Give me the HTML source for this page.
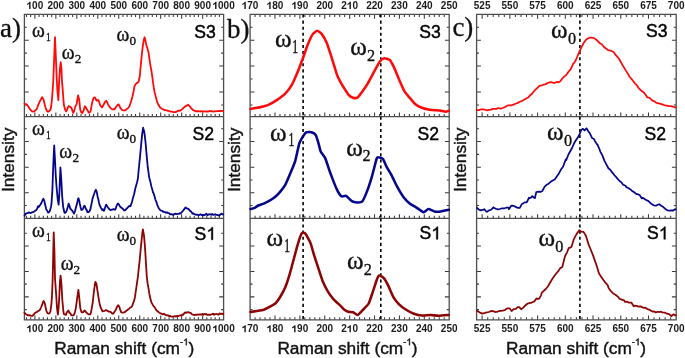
<!DOCTYPE html>
<html><head><meta charset="utf-8"><style>
html,body{margin:0;padding:0;background:#fff;}
svg{display:block;will-change:transform;filter:blur(0.25px);}
.tl{font-family:"Liberation Sans",sans-serif;font-size:10px;font-weight:bold;text-anchor:middle;fill:#1a1a1a;}
.ax{font-family:"Liberation Sans",sans-serif;font-size:17.3px;fill:#111;stroke:#111;stroke-width:0.4px;}
.sl{font-family:"Liberation Sans",sans-serif;font-size:17.6px;fill:#000;stroke:#000;stroke-width:0.45px;}
.pl{font-family:"Liberation Serif",serif;font-size:27px;fill:#111;stroke:#111;stroke-width:0.3px;}
.om{font-family:"Liberation Serif",serif;fill:#111;stroke:#111;stroke-width:0.35px;}
</style></head><body>
<svg width="685" height="358" viewBox="0 0 685 358">
<path d="M26.50 116.70v-2.6 M26.50 14.45v2.6 M30.69 116.70v-2.6 M30.69 14.45v2.6 M34.88 116.70v-4.2 M34.88 14.45v4.2 M39.08 116.70v-2.6 M39.08 14.45v2.6 M43.27 116.70v-2.6 M43.27 14.45v2.6 M47.47 116.70v-2.6 M47.47 14.45v2.6 M51.66 116.70v-2.6 M51.66 14.45v2.6 M55.85 116.70v-4.2 M55.85 14.45v4.2 M60.05 116.70v-2.6 M60.05 14.45v2.6 M64.24 116.70v-2.6 M64.24 14.45v2.6 M68.43 116.70v-2.6 M68.43 14.45v2.6 M72.63 116.70v-2.6 M72.63 14.45v2.6 M76.82 116.70v-4.2 M76.82 14.45v4.2 M81.01 116.70v-2.6 M81.01 14.45v2.6 M85.21 116.70v-2.6 M85.21 14.45v2.6 M89.40 116.70v-2.6 M89.40 14.45v2.6 M93.60 116.70v-2.6 M93.60 14.45v2.6 M97.79 116.70v-4.2 M97.79 14.45v4.2 M101.98 116.70v-2.6 M101.98 14.45v2.6 M106.18 116.70v-2.6 M106.18 14.45v2.6 M110.37 116.70v-2.6 M110.37 14.45v2.6 M114.56 116.70v-2.6 M114.56 14.45v2.6 M118.76 116.70v-4.2 M118.76 14.45v4.2 M122.95 116.70v-2.6 M122.95 14.45v2.6 M127.15 116.70v-2.6 M127.15 14.45v2.6 M131.34 116.70v-2.6 M131.34 14.45v2.6 M135.53 116.70v-2.6 M135.53 14.45v2.6 M139.73 116.70v-4.2 M139.73 14.45v4.2 M143.92 116.70v-2.6 M143.92 14.45v2.6 M148.11 116.70v-2.6 M148.11 14.45v2.6 M152.31 116.70v-2.6 M152.31 14.45v2.6 M156.50 116.70v-2.6 M156.50 14.45v2.6 M160.69 116.70v-4.2 M160.69 14.45v4.2 M164.89 116.70v-2.6 M164.89 14.45v2.6 M169.08 116.70v-2.6 M169.08 14.45v2.6 M173.28 116.70v-2.6 M173.28 14.45v2.6 M177.47 116.70v-2.6 M177.47 14.45v2.6 M181.66 116.70v-4.2 M181.66 14.45v4.2 M185.86 116.70v-2.6 M185.86 14.45v2.6 M190.05 116.70v-2.6 M190.05 14.45v2.6 M194.24 116.70v-2.6 M194.24 14.45v2.6 M198.44 116.70v-2.6 M198.44 14.45v2.6 M202.63 116.70v-4.2 M202.63 14.45v4.2 M206.83 116.70v-2.6 M206.83 14.45v2.6 M211.02 116.70v-2.6 M211.02 14.45v2.6 M215.21 116.70v-2.6 M215.21 14.45v2.6 M219.41 116.70v-2.6 M219.41 14.45v2.6" stroke="#3a3a3a" stroke-width="1.05" fill="none"/>
<path d="M24.40 104.90h2.4 M223.60 104.90h-2.4 M24.40 91.95h4.3 M223.60 91.95h-4.3 M24.40 79.00h2.4 M223.60 79.00h-2.4 M24.40 66.05h4.3 M223.60 66.05h-4.3 M24.40 53.10h2.4 M223.60 53.10h-2.4 M24.40 40.15h4.3 M223.60 40.15h-4.3 M24.40 27.20h2.4 M223.60 27.20h-2.4" stroke="#3a3a3a" stroke-width="1.05" fill="none"/>
<path d="M26.50 218.40v-2.6 M30.69 218.40v-2.6 M34.88 218.40v-4.2 M39.08 218.40v-2.6 M43.27 218.40v-2.6 M47.47 218.40v-2.6 M51.66 218.40v-2.6 M55.85 218.40v-4.2 M60.05 218.40v-2.6 M64.24 218.40v-2.6 M68.43 218.40v-2.6 M72.63 218.40v-2.6 M76.82 218.40v-4.2 M81.01 218.40v-2.6 M85.21 218.40v-2.6 M89.40 218.40v-2.6 M93.60 218.40v-2.6 M97.79 218.40v-4.2 M101.98 218.40v-2.6 M106.18 218.40v-2.6 M110.37 218.40v-2.6 M114.56 218.40v-2.6 M118.76 218.40v-4.2 M122.95 218.40v-2.6 M127.15 218.40v-2.6 M131.34 218.40v-2.6 M135.53 218.40v-2.6 M139.73 218.40v-4.2 M143.92 218.40v-2.6 M148.11 218.40v-2.6 M152.31 218.40v-2.6 M156.50 218.40v-2.6 M160.69 218.40v-4.2 M164.89 218.40v-2.6 M169.08 218.40v-2.6 M173.28 218.40v-2.6 M177.47 218.40v-2.6 M181.66 218.40v-4.2 M185.86 218.40v-2.6 M190.05 218.40v-2.6 M194.24 218.40v-2.6 M198.44 218.40v-2.6 M202.63 218.40v-4.2 M206.83 218.40v-2.6 M211.02 218.40v-2.6 M215.21 218.40v-2.6 M219.41 218.40v-2.6" stroke="#3a3a3a" stroke-width="1.05" fill="none"/>
<path d="M24.40 205.50h2.4 M223.60 205.50h-2.4 M24.40 192.72h4.3 M223.60 192.72h-4.3 M24.40 179.93h2.4 M223.60 179.93h-2.4 M24.40 167.15h4.3 M223.60 167.15h-4.3 M24.40 154.37h2.4 M223.60 154.37h-2.4 M24.40 141.58h4.3 M223.60 141.58h-4.3 M24.40 128.80h2.4 M223.60 128.80h-2.4" stroke="#3a3a3a" stroke-width="1.05" fill="none"/>
<path d="M26.50 319.80v-2.6 M30.69 319.80v-2.6 M34.88 319.80v-4.2 M39.08 319.80v-2.6 M43.27 319.80v-2.6 M47.47 319.80v-2.6 M51.66 319.80v-2.6 M55.85 319.80v-4.2 M60.05 319.80v-2.6 M64.24 319.80v-2.6 M68.43 319.80v-2.6 M72.63 319.80v-2.6 M76.82 319.80v-4.2 M81.01 319.80v-2.6 M85.21 319.80v-2.6 M89.40 319.80v-2.6 M93.60 319.80v-2.6 M97.79 319.80v-4.2 M101.98 319.80v-2.6 M106.18 319.80v-2.6 M110.37 319.80v-2.6 M114.56 319.80v-2.6 M118.76 319.80v-4.2 M122.95 319.80v-2.6 M127.15 319.80v-2.6 M131.34 319.80v-2.6 M135.53 319.80v-2.6 M139.73 319.80v-4.2 M143.92 319.80v-2.6 M148.11 319.80v-2.6 M152.31 319.80v-2.6 M156.50 319.80v-2.6 M160.69 319.80v-4.2 M164.89 319.80v-2.6 M169.08 319.80v-2.6 M173.28 319.80v-2.6 M177.47 319.80v-2.6 M181.66 319.80v-4.2 M185.86 319.80v-2.6 M190.05 319.80v-2.6 M194.24 319.80v-2.6 M198.44 319.80v-2.6 M202.63 319.80v-4.2 M206.83 319.80v-2.6 M211.02 319.80v-2.6 M215.21 319.80v-2.6 M219.41 319.80v-2.6" stroke="#3a3a3a" stroke-width="1.05" fill="none"/>
<path d="M24.40 309.60h2.4 M223.60 309.60h-2.4 M24.40 296.87h4.3 M223.60 296.87h-4.3 M24.40 284.13h2.4 M223.60 284.13h-2.4 M24.40 271.40h4.3 M223.60 271.40h-4.3 M24.40 258.67h2.4 M223.60 258.67h-2.4 M24.40 245.93h4.3 M223.60 245.93h-4.3 M24.40 233.20h2.4 M223.60 233.20h-2.4" stroke="#3a3a3a" stroke-width="1.05" fill="none"/>
<path d="M24.4 14.45H223.6V319.8H24.4Z M24.4 116.7H223.6 M24.4 218.4H223.6" stroke="#4d4d4d" stroke-width="1.3" fill="none"/>
<text x="34.88" y="9.0" class="tl"> 00</text>
<path d="M400 0H263V516C205 462 137 422 60 397V521C101 534 146 559 195 595C244 632 278 672 296 716H400Z" transform="translate(26.54,9.0) scale(0.01,-0.01)" fill="#111"/>
<text x="34.88" y="332.3" class="tl"> 00</text>
<path d="M400 0H263V516C205 462 137 422 60 397V521C101 534 146 559 195 595C244 632 278 672 296 716H400Z" transform="translate(26.54,332.3) scale(0.01,-0.01)" fill="#111"/>
<text x="55.85" y="9.0" class="tl">200</text>
<text x="55.85" y="332.3" class="tl">200</text>
<text x="76.82" y="9.0" class="tl">300</text>
<text x="76.82" y="332.3" class="tl">300</text>
<text x="97.79" y="9.0" class="tl">400</text>
<text x="97.79" y="332.3" class="tl">400</text>
<text x="118.76" y="9.0" class="tl">500</text>
<text x="118.76" y="332.3" class="tl">500</text>
<text x="139.73" y="9.0" class="tl">600</text>
<text x="139.73" y="332.3" class="tl">600</text>
<text x="160.69" y="9.0" class="tl">700</text>
<text x="160.69" y="332.3" class="tl">700</text>
<text x="181.66" y="9.0" class="tl">800</text>
<text x="181.66" y="332.3" class="tl">800</text>
<text x="202.63" y="9.0" class="tl">900</text>
<text x="202.63" y="332.3" class="tl">900</text>
<text x="223.60" y="9.0" class="tl"> 000</text>
<path d="M400 0H263V516C205 462 137 422 60 397V521C101 534 146 559 195 595C244 632 278 672 296 716H400Z" transform="translate(212.48,9.0) scale(0.01,-0.01)" fill="#111"/>
<text x="223.60" y="332.3" class="tl"> 000</text>
<path d="M400 0H263V516C205 462 137 422 60 397V521C101 534 146 559 195 595C244 632 278 672 296 716H400Z" transform="translate(212.48,332.3) scale(0.01,-0.01)" fill="#111"/>
<path d="M255.08 116.70v-2.6 M255.08 14.45v2.6 M260.06 116.70v-2.6 M260.06 14.45v2.6 M265.03 116.70v-2.6 M265.03 14.45v2.6 M270.01 116.70v-2.6 M270.01 14.45v2.6 M274.99 116.70v-4.2 M274.99 14.45v4.2 M279.96 116.70v-2.6 M279.96 14.45v2.6 M284.94 116.70v-2.6 M284.94 14.45v2.6 M289.92 116.70v-2.6 M289.92 14.45v2.6 M294.90 116.70v-2.6 M294.90 14.45v2.6 M299.88 116.70v-4.2 M299.88 14.45v4.2 M304.85 116.70v-2.6 M304.85 14.45v2.6 M309.83 116.70v-2.6 M309.83 14.45v2.6 M314.81 116.70v-2.6 M314.81 14.45v2.6 M319.78 116.70v-2.6 M319.78 14.45v2.6 M324.76 116.70v-4.2 M324.76 14.45v4.2 M329.74 116.70v-2.6 M329.74 14.45v2.6 M334.72 116.70v-2.6 M334.72 14.45v2.6 M339.69 116.70v-2.6 M339.69 14.45v2.6 M344.67 116.70v-2.6 M344.67 14.45v2.6 M349.65 116.70v-4.2 M349.65 14.45v4.2 M354.63 116.70v-2.6 M354.63 14.45v2.6 M359.61 116.70v-2.6 M359.61 14.45v2.6 M364.58 116.70v-2.6 M364.58 14.45v2.6 M369.56 116.70v-2.6 M369.56 14.45v2.6 M374.54 116.70v-4.2 M374.54 14.45v4.2 M379.51 116.70v-2.6 M379.51 14.45v2.6 M384.49 116.70v-2.6 M384.49 14.45v2.6 M389.47 116.70v-2.6 M389.47 14.45v2.6 M394.45 116.70v-2.6 M394.45 14.45v2.6 M399.42 116.70v-4.2 M399.42 14.45v4.2 M404.40 116.70v-2.6 M404.40 14.45v2.6 M409.38 116.70v-2.6 M409.38 14.45v2.6 M414.36 116.70v-2.6 M414.36 14.45v2.6 M419.33 116.70v-2.6 M419.33 14.45v2.6 M424.31 116.70v-4.2 M424.31 14.45v4.2 M429.29 116.70v-2.6 M429.29 14.45v2.6 M434.27 116.70v-2.6 M434.27 14.45v2.6 M439.25 116.70v-2.6 M439.25 14.45v2.6 M444.22 116.70v-2.6 M444.22 14.45v2.6" stroke="#3a3a3a" stroke-width="1.05" fill="none"/>
<path d="M250.10 104.90h2.4 M449.20 104.90h-2.4 M250.10 91.95h4.3 M449.20 91.95h-4.3 M250.10 79.00h2.4 M449.20 79.00h-2.4 M250.10 66.05h4.3 M449.20 66.05h-4.3 M250.10 53.10h2.4 M449.20 53.10h-2.4 M250.10 40.15h4.3 M449.20 40.15h-4.3 M250.10 27.20h2.4 M449.20 27.20h-2.4" stroke="#3a3a3a" stroke-width="1.05" fill="none"/>
<path d="M255.08 218.40v-2.6 M260.06 218.40v-2.6 M265.03 218.40v-2.6 M270.01 218.40v-2.6 M274.99 218.40v-4.2 M279.96 218.40v-2.6 M284.94 218.40v-2.6 M289.92 218.40v-2.6 M294.90 218.40v-2.6 M299.88 218.40v-4.2 M304.85 218.40v-2.6 M309.83 218.40v-2.6 M314.81 218.40v-2.6 M319.78 218.40v-2.6 M324.76 218.40v-4.2 M329.74 218.40v-2.6 M334.72 218.40v-2.6 M339.69 218.40v-2.6 M344.67 218.40v-2.6 M349.65 218.40v-4.2 M354.63 218.40v-2.6 M359.61 218.40v-2.6 M364.58 218.40v-2.6 M369.56 218.40v-2.6 M374.54 218.40v-4.2 M379.51 218.40v-2.6 M384.49 218.40v-2.6 M389.47 218.40v-2.6 M394.45 218.40v-2.6 M399.42 218.40v-4.2 M404.40 218.40v-2.6 M409.38 218.40v-2.6 M414.36 218.40v-2.6 M419.33 218.40v-2.6 M424.31 218.40v-4.2 M429.29 218.40v-2.6 M434.27 218.40v-2.6 M439.25 218.40v-2.6 M444.22 218.40v-2.6" stroke="#3a3a3a" stroke-width="1.05" fill="none"/>
<path d="M250.10 205.50h2.4 M449.20 205.50h-2.4 M250.10 192.72h4.3 M449.20 192.72h-4.3 M250.10 179.93h2.4 M449.20 179.93h-2.4 M250.10 167.15h4.3 M449.20 167.15h-4.3 M250.10 154.37h2.4 M449.20 154.37h-2.4 M250.10 141.58h4.3 M449.20 141.58h-4.3 M250.10 128.80h2.4 M449.20 128.80h-2.4" stroke="#3a3a3a" stroke-width="1.05" fill="none"/>
<path d="M255.08 319.80v-2.6 M260.06 319.80v-2.6 M265.03 319.80v-2.6 M270.01 319.80v-2.6 M274.99 319.80v-4.2 M279.96 319.80v-2.6 M284.94 319.80v-2.6 M289.92 319.80v-2.6 M294.90 319.80v-2.6 M299.88 319.80v-4.2 M304.85 319.80v-2.6 M309.83 319.80v-2.6 M314.81 319.80v-2.6 M319.78 319.80v-2.6 M324.76 319.80v-4.2 M329.74 319.80v-2.6 M334.72 319.80v-2.6 M339.69 319.80v-2.6 M344.67 319.80v-2.6 M349.65 319.80v-4.2 M354.63 319.80v-2.6 M359.61 319.80v-2.6 M364.58 319.80v-2.6 M369.56 319.80v-2.6 M374.54 319.80v-4.2 M379.51 319.80v-2.6 M384.49 319.80v-2.6 M389.47 319.80v-2.6 M394.45 319.80v-2.6 M399.42 319.80v-4.2 M404.40 319.80v-2.6 M409.38 319.80v-2.6 M414.36 319.80v-2.6 M419.33 319.80v-2.6 M424.31 319.80v-4.2 M429.29 319.80v-2.6 M434.27 319.80v-2.6 M439.25 319.80v-2.6 M444.22 319.80v-2.6" stroke="#3a3a3a" stroke-width="1.05" fill="none"/>
<path d="M250.10 309.60h2.4 M449.20 309.60h-2.4 M250.10 296.87h4.3 M449.20 296.87h-4.3 M250.10 284.13h2.4 M449.20 284.13h-2.4 M250.10 271.40h4.3 M449.20 271.40h-4.3 M250.10 258.67h2.4 M449.20 258.67h-2.4 M250.10 245.93h4.3 M449.20 245.93h-4.3 M250.10 233.20h2.4 M449.20 233.20h-2.4" stroke="#3a3a3a" stroke-width="1.05" fill="none"/>
<path d="M250.1 14.45H449.2V319.8H250.1Z M250.1 116.7H449.2 M250.1 218.4H449.2" stroke="#4d4d4d" stroke-width="1.3" fill="none"/>
<text x="250.10" y="9.0" class="tl"> 70</text>
<path d="M400 0H263V516C205 462 137 422 60 397V521C101 534 146 559 195 595C244 632 278 672 296 716H400Z" transform="translate(241.76,9.0) scale(0.01,-0.01)" fill="#111"/>
<text x="250.10" y="332.3" class="tl"> 70</text>
<path d="M400 0H263V516C205 462 137 422 60 397V521C101 534 146 559 195 595C244 632 278 672 296 716H400Z" transform="translate(241.76,332.3) scale(0.01,-0.01)" fill="#111"/>
<text x="274.99" y="9.0" class="tl"> 80</text>
<path d="M400 0H263V516C205 462 137 422 60 397V521C101 534 146 559 195 595C244 632 278 672 296 716H400Z" transform="translate(266.65,9.0) scale(0.01,-0.01)" fill="#111"/>
<text x="274.99" y="332.3" class="tl"> 80</text>
<path d="M400 0H263V516C205 462 137 422 60 397V521C101 534 146 559 195 595C244 632 278 672 296 716H400Z" transform="translate(266.65,332.3) scale(0.01,-0.01)" fill="#111"/>
<text x="299.88" y="9.0" class="tl"> 90</text>
<path d="M400 0H263V516C205 462 137 422 60 397V521C101 534 146 559 195 595C244 632 278 672 296 716H400Z" transform="translate(291.53,9.0) scale(0.01,-0.01)" fill="#111"/>
<text x="299.88" y="332.3" class="tl"> 90</text>
<path d="M400 0H263V516C205 462 137 422 60 397V521C101 534 146 559 195 595C244 632 278 672 296 716H400Z" transform="translate(291.53,332.3) scale(0.01,-0.01)" fill="#111"/>
<text x="324.76" y="9.0" class="tl">200</text>
<text x="324.76" y="332.3" class="tl">200</text>
<text x="349.65" y="9.0" class="tl">2 0</text>
<path d="M400 0H263V516C205 462 137 422 60 397V521C101 534 146 559 195 595C244 632 278 672 296 716H400Z" transform="translate(346.87,9.0) scale(0.01,-0.01)" fill="#111"/>
<text x="349.65" y="332.3" class="tl">2 0</text>
<path d="M400 0H263V516C205 462 137 422 60 397V521C101 534 146 559 195 595C244 632 278 672 296 716H400Z" transform="translate(346.87,332.3) scale(0.01,-0.01)" fill="#111"/>
<text x="374.54" y="9.0" class="tl">220</text>
<text x="374.54" y="332.3" class="tl">220</text>
<text x="399.42" y="9.0" class="tl">230</text>
<text x="399.42" y="332.3" class="tl">230</text>
<text x="424.31" y="9.0" class="tl">240</text>
<text x="424.31" y="332.3" class="tl">240</text>
<text x="449.20" y="9.0" class="tl">250</text>
<text x="449.20" y="332.3" class="tl">250</text>
<path d="M482.14 116.70v-4.2 M482.14 14.45v4.2 M487.69 116.70v-2.6 M487.69 14.45v2.6 M493.23 116.70v-2.6 M493.23 14.45v2.6 M498.78 116.70v-2.6 M498.78 14.45v2.6 M504.32 116.70v-2.6 M504.32 14.45v2.6 M509.87 116.70v-4.2 M509.87 14.45v4.2 M515.41 116.70v-2.6 M515.41 14.45v2.6 M520.96 116.70v-2.6 M520.96 14.45v2.6 M526.50 116.70v-2.6 M526.50 14.45v2.6 M532.04 116.70v-2.6 M532.04 14.45v2.6 M537.59 116.70v-4.2 M537.59 14.45v4.2 M543.13 116.70v-2.6 M543.13 14.45v2.6 M548.68 116.70v-2.6 M548.68 14.45v2.6 M554.22 116.70v-2.6 M554.22 14.45v2.6 M559.77 116.70v-2.6 M559.77 14.45v2.6 M565.31 116.70v-4.2 M565.31 14.45v4.2 M570.86 116.70v-2.6 M570.86 14.45v2.6 M576.40 116.70v-2.6 M576.40 14.45v2.6 M581.94 116.70v-2.6 M581.94 14.45v2.6 M587.49 116.70v-2.6 M587.49 14.45v2.6 M593.03 116.70v-4.2 M593.03 14.45v4.2 M598.58 116.70v-2.6 M598.58 14.45v2.6 M604.12 116.70v-2.6 M604.12 14.45v2.6 M609.67 116.70v-2.6 M609.67 14.45v2.6 M615.21 116.70v-2.6 M615.21 14.45v2.6 M620.76 116.70v-4.2 M620.76 14.45v4.2 M626.30 116.70v-2.6 M626.30 14.45v2.6 M631.84 116.70v-2.6 M631.84 14.45v2.6 M637.39 116.70v-2.6 M637.39 14.45v2.6 M642.93 116.70v-2.6 M642.93 14.45v2.6 M648.48 116.70v-4.2 M648.48 14.45v4.2 M654.02 116.70v-2.6 M654.02 14.45v2.6 M659.57 116.70v-2.6 M659.57 14.45v2.6 M665.11 116.70v-2.6 M665.11 14.45v2.6 M670.66 116.70v-2.6 M670.66 14.45v2.6" stroke="#3a3a3a" stroke-width="1.05" fill="none"/>
<path d="M476.60 104.90h2.4 M676.20 104.90h-2.4 M476.60 91.95h4.3 M676.20 91.95h-4.3 M476.60 79.00h2.4 M676.20 79.00h-2.4 M476.60 66.05h4.3 M676.20 66.05h-4.3 M476.60 53.10h2.4 M676.20 53.10h-2.4 M476.60 40.15h4.3 M676.20 40.15h-4.3 M476.60 27.20h2.4 M676.20 27.20h-2.4" stroke="#3a3a3a" stroke-width="1.05" fill="none"/>
<path d="M482.14 218.40v-4.2 M487.69 218.40v-2.6 M493.23 218.40v-2.6 M498.78 218.40v-2.6 M504.32 218.40v-2.6 M509.87 218.40v-4.2 M515.41 218.40v-2.6 M520.96 218.40v-2.6 M526.50 218.40v-2.6 M532.04 218.40v-2.6 M537.59 218.40v-4.2 M543.13 218.40v-2.6 M548.68 218.40v-2.6 M554.22 218.40v-2.6 M559.77 218.40v-2.6 M565.31 218.40v-4.2 M570.86 218.40v-2.6 M576.40 218.40v-2.6 M581.94 218.40v-2.6 M587.49 218.40v-2.6 M593.03 218.40v-4.2 M598.58 218.40v-2.6 M604.12 218.40v-2.6 M609.67 218.40v-2.6 M615.21 218.40v-2.6 M620.76 218.40v-4.2 M626.30 218.40v-2.6 M631.84 218.40v-2.6 M637.39 218.40v-2.6 M642.93 218.40v-2.6 M648.48 218.40v-4.2 M654.02 218.40v-2.6 M659.57 218.40v-2.6 M665.11 218.40v-2.6 M670.66 218.40v-2.6" stroke="#3a3a3a" stroke-width="1.05" fill="none"/>
<path d="M476.60 205.50h2.4 M676.20 205.50h-2.4 M476.60 192.72h4.3 M676.20 192.72h-4.3 M476.60 179.93h2.4 M676.20 179.93h-2.4 M476.60 167.15h4.3 M676.20 167.15h-4.3 M476.60 154.37h2.4 M676.20 154.37h-2.4 M476.60 141.58h4.3 M676.20 141.58h-4.3 M476.60 128.80h2.4 M676.20 128.80h-2.4" stroke="#3a3a3a" stroke-width="1.05" fill="none"/>
<path d="M482.14 319.80v-4.2 M487.69 319.80v-2.6 M493.23 319.80v-2.6 M498.78 319.80v-2.6 M504.32 319.80v-2.6 M509.87 319.80v-4.2 M515.41 319.80v-2.6 M520.96 319.80v-2.6 M526.50 319.80v-2.6 M532.04 319.80v-2.6 M537.59 319.80v-4.2 M543.13 319.80v-2.6 M548.68 319.80v-2.6 M554.22 319.80v-2.6 M559.77 319.80v-2.6 M565.31 319.80v-4.2 M570.86 319.80v-2.6 M576.40 319.80v-2.6 M581.94 319.80v-2.6 M587.49 319.80v-2.6 M593.03 319.80v-4.2 M598.58 319.80v-2.6 M604.12 319.80v-2.6 M609.67 319.80v-2.6 M615.21 319.80v-2.6 M620.76 319.80v-4.2 M626.30 319.80v-2.6 M631.84 319.80v-2.6 M637.39 319.80v-2.6 M642.93 319.80v-2.6 M648.48 319.80v-4.2 M654.02 319.80v-2.6 M659.57 319.80v-2.6 M665.11 319.80v-2.6 M670.66 319.80v-2.6" stroke="#3a3a3a" stroke-width="1.05" fill="none"/>
<path d="M476.60 309.60h2.4 M676.20 309.60h-2.4 M476.60 296.87h4.3 M676.20 296.87h-4.3 M476.60 284.13h2.4 M676.20 284.13h-2.4 M476.60 271.40h4.3 M676.20 271.40h-4.3 M476.60 258.67h2.4 M676.20 258.67h-2.4 M476.60 245.93h4.3 M676.20 245.93h-4.3 M476.60 233.20h2.4 M676.20 233.20h-2.4" stroke="#3a3a3a" stroke-width="1.05" fill="none"/>
<path d="M476.6 14.45H676.2V319.8H476.6Z M476.6 116.7H676.2 M476.6 218.4H676.2" stroke="#4d4d4d" stroke-width="1.3" fill="none"/>
<text x="482.14" y="9.0" class="tl">525</text>
<text x="482.14" y="332.3" class="tl">525</text>
<text x="509.87" y="9.0" class="tl">550</text>
<text x="509.87" y="332.3" class="tl">550</text>
<text x="537.59" y="9.0" class="tl">575</text>
<text x="537.59" y="332.3" class="tl">575</text>
<text x="565.31" y="9.0" class="tl">600</text>
<text x="565.31" y="332.3" class="tl">600</text>
<text x="593.03" y="9.0" class="tl">625</text>
<text x="593.03" y="332.3" class="tl">625</text>
<text x="620.76" y="9.0" class="tl">650</text>
<text x="620.76" y="332.3" class="tl">650</text>
<text x="648.48" y="9.0" class="tl">675</text>
<text x="648.48" y="332.3" class="tl">675</text>
<text x="676.20" y="9.0" class="tl">700</text>
<text x="676.20" y="332.3" class="tl">700</text>
<line x1="303.1" y1="14.45" x2="303.1" y2="116.2" stroke="#000" stroke-width="1.6" stroke-dasharray="3.1 3.0"/>
<line x1="303.1" y1="116.7" x2="303.1" y2="217.9" stroke="#000" stroke-width="1.6" stroke-dasharray="3.1 3.0"/>
<line x1="303.1" y1="218.4" x2="303.1" y2="319.3" stroke="#000" stroke-width="1.6" stroke-dasharray="3.1 3.0"/>
<line x1="380.8" y1="14.45" x2="380.8" y2="116.2" stroke="#000" stroke-width="1.6" stroke-dasharray="3.1 3.0"/>
<line x1="380.8" y1="116.7" x2="380.8" y2="217.9" stroke="#000" stroke-width="1.6" stroke-dasharray="3.1 3.0"/>
<line x1="380.8" y1="218.4" x2="380.8" y2="319.3" stroke="#000" stroke-width="1.6" stroke-dasharray="3.1 3.0"/>
<line x1="579.9" y1="14.45" x2="579.9" y2="116.2" stroke="#000" stroke-width="1.6" stroke-dasharray="3.1 3.0"/>
<line x1="579.9" y1="116.7" x2="579.9" y2="217.9" stroke="#000" stroke-width="1.6" stroke-dasharray="3.1 3.0"/>
<line x1="579.9" y1="218.4" x2="579.9" y2="319.3" stroke="#000" stroke-width="1.6" stroke-dasharray="3.1 3.0"/>
<path d="M24.50 103.59L25.99 104.28L26.60 104.40L27.77 105.76L28.67 107.07L29.20 108.10L30.12 109.23L31.00 110.41L32.31 111.49L33.20 111.71L34.27 111.45L35.30 110.44L36.45 109.26L37.10 108.10L38.17 105.11L39.14 102.95L39.70 101.52L40.82 99.60L41.87 97.49L42.10 97.29L43.17 98.87L43.70 100.21L44.64 104.31L45.56 107.63L45.70 108.11L46.63 110.31L47.64 111.56L48.30 111.71L49.33 111.00L50.34 109.85L50.90 108.11L51.81 101.14L52.20 96.21L53.12 83.57L53.30 80.00L54.10 60.01L55.00 37.24L55.90 57.93L56.70 77.97L57.40 90.97L58.35 100.17L58.40 99.49L59.20 80.04L60.00 68.04L60.70 62.08L61.40 67.90L61.90 80.06L62.70 89.67L63.60 102.05L64.00 105.31L64.99 109.41L66.00 111.38L67.05 110.04L67.50 108.41L68.60 106.01L69.51 106.49L70.00 106.95L70.97 107.30L71.50 107.92L72.56 111.28L73.30 112.94L74.27 110.65L75.20 106.87L76.22 104.80L76.70 103.75L77.68 97.44L78.10 95.39L79.08 99.16L79.30 100.63L80.22 109.61L80.30 109.98L81.41 112.66L82.40 113.00L83.34 110.96L84.32 108.09L85.00 106.29L85.96 107.48L86.50 108.93L87.63 110.31L88.57 112.41L89.10 112.91L90.12 111.88L90.70 110.53L91.70 105.18L92.20 102.54L93.16 99.06L93.80 97.54L94.80 97.46L95.30 98.09L96.37 100.27L96.90 100.71L97.90 100.02L98.40 100.13L99.43 102.79L100.00 104.88L100.97 106.38L102.00 107.43L103.04 105.71L104.10 103.74L105.01 101.97L105.91 101.18L106.20 100.75L107.31 102.52L108.20 104.78L109.39 106.48L110.30 107.90L111.57 108.86L112.40 109.45L113.49 109.24L114.40 109.38L115.00 108.64L116.15 106.73L116.80 106.05L117.73 104.79L118.70 104.44L119.64 106.31L120.64 108.56L120.90 108.61L122.13 110.02L123.50 110.28L124.41 110.28L125.40 110.36L126.36 109.36L126.80 109.08L127.99 108.12L129.07 106.70L129.40 106.10L130.44 103.29L131.40 100.27L132.31 97.01L133.29 92.72L133.40 92.32L134.37 87.07L134.70 85.77L135.66 84.16L136.70 83.15L137.69 82.64L138.60 81.73L139.58 77.27L139.90 75.27L140.40 69.06L141.33 59.56L141.50 57.86L142.42 49.19L142.90 45.51L143.83 39.78L144.60 37.25L145.59 41.06L146.40 45.30L147.32 48.04L148.23 51.21L148.50 52.30L149.46 59.12L149.90 62.18L150.82 67.55L151.60 71.99L152.51 78.45L152.70 79.93L153.70 87.13L154.64 92.23L155.59 95.81L155.70 96.12L156.73 100.48L157.70 103.59L158.78 105.34L159.98 107.25L160.30 107.36L161.63 108.71L162.59 109.11L163.60 109.42L164.57 110.23L165.60 110.05L166.61 110.29L167.50 110.82L168.51 110.78L170.00 111.45L170.99 111.53L172.14 111.60L173.30 112.08L174.30 112.21L175.46 112.09L176.43 111.64L177.00 111.57L177.99 110.74L179.06 110.86L180.07 110.61L180.50 110.62L181.76 109.23L182.50 108.98L183.61 107.69L184.70 106.86L185.62 106.25L186.50 105.53L187.71 105.15L188.30 104.76L189.56 106.03L190.00 106.58L191.17 108.30L191.90 108.88L193.04 110.17L194.45 110.60L195.00 111.12L196.35 111.23L197.36 111.19L198.42 111.25L199.48 111.37L200.00 111.31L201.05 111.23L202.13 111.26L203.21 111.55L204.27 111.29L205.30 111.39L206.37 111.65L207.38 111.30L208.38 111.54L209.44 110.99L210.00 111.01L211.01 111.26L212.10 111.26L213.22 111.61L214.29 111.41L215.27 111.37L215.70 111.34L216.95 111.14L217.94 111.11L219.00 110.91L220.04 111.09L221.21 110.80L222.26 110.89L223.00 111.05" stroke="#ff0a0a" stroke-width="1.8" fill="none" stroke-linejoin="round" stroke-linecap="round"/>
<path d="M24.50 215.75L25.55 213.68L26.00 213.66L26.93 213.19L28.00 213.03L29.03 212.31L30.15 213.00L30.70 213.09L31.78 212.40L32.86 212.06L33.40 212.12L34.30 211.51L35.21 210.55L36.10 210.26L37.10 208.76L38.09 206.11L38.70 207.08L39.75 205.49L40.80 204.09L41.76 202.14L42.76 199.73L43.40 198.81L44.39 201.08L44.80 203.53L45.82 207.24L46.10 209.12L47.06 210.60L48.10 212.57L49.14 212.06L50.10 210.23L51.03 206.64L51.50 203.57L52.40 189.55L52.90 174.96L53.50 159.96L54.20 145.52L54.90 158.21L55.70 174.83L56.62 187.71L56.80 189.67L57.71 199.30L57.80 199.74L58.60 204.64L59.40 193.34L59.90 180.09L60.40 167.48L61.20 178.01L62.11 194.69L62.20 196.62L63.10 206.29L63.50 208.56L64.55 212.96L64.90 212.92L66.03 212.12L66.90 210.01L67.84 206.82L68.60 203.63L69.59 206.35L70.20 208.59L71.46 209.75L72.30 210.87L73.47 212.61L74.00 213.62L75.04 211.25L75.40 209.47L76.40 205.77L77.10 203.60L78.01 199.03L78.50 198.21L79.43 201.41L79.80 203.73L80.77 207.95L81.40 210.02L82.59 209.43L83.00 208.68L84.17 205.95L84.70 205.86L85.80 208.89L86.90 210.35L87.40 212.17L88.41 212.17L89.40 211.46L90.44 209.25L90.80 207.28L91.79 202.60L92.50 198.75L93.56 195.48L94.10 194.05L95.15 191.01L95.90 189.70L96.80 192.14L97.72 197.38L98.10 198.24L99.01 202.64L99.95 205.95L100.10 206.01L101.12 208.08L102.20 209.95L102.80 209.29L103.74 210.91L104.20 210.34L105.16 207.30L106.20 204.61L107.29 206.49L108.20 207.82L109.51 209.33L110.45 210.12L110.90 209.54L112.00 209.85L113.05 209.21L113.50 209.13L114.55 209.50L115.00 209.79L115.98 207.97L116.40 206.17L117.51 203.99L118.10 203.49L119.27 205.09L119.90 206.33L121.15 207.60L122.00 208.11L123.26 209.27L124.10 210.50L125.36 210.07L126.20 209.16L127.46 207.78L128.30 206.92L129.39 205.82L130.40 206.41L131.37 203.60L131.80 202.85L132.73 198.87L133.76 195.21L133.90 195.02L134.84 190.82L135.77 186.61L136.00 186.13L137.01 182.46L137.91 178.33L138.00 177.54L138.92 167.45L139.00 166.92L139.70 159.92L140.62 150.21L141.20 144.21L142.10 134.82L142.20 133.98L143.15 127.75L143.25 128.19L144.16 131.41L144.60 134.13L145.52 142.30L145.70 144.09L146.60 154.68L146.90 158.18L147.85 168.08L148.00 168.57L148.92 175.41L149.20 177.44L150.19 180.91L151.18 185.61L151.30 186.16L152.20 189.14L153.10 192.69L153.40 192.81L154.45 195.91L155.35 199.35L155.50 199.79L156.49 202.14L157.44 205.38L157.60 205.54L158.51 207.67L159.00 208.44L160.11 210.01L161.00 210.58L162.26 210.83L163.24 211.77L163.80 211.76L164.75 212.08L165.81 212.75L166.92 212.22L168.00 213.08L169.05 213.14L170.10 214.35L171.15 214.18L172.20 214.42L173.26 214.97L174.34 214.01L175.39 213.61L176.40 214.17L177.49 213.92L178.53 213.93L179.52 213.27L180.00 213.69L181.15 212.76L182.23 211.65L183.00 210.75L184.28 209.10L185.61 207.43L186.50 208.26L187.83 208.53L189.16 209.72L190.00 210.84L191.27 211.77L192.52 213.65L193.00 213.23L194.29 214.21L195.22 214.47L196.34 214.90L197.00 214.41L198.37 215.27L199.43 214.82L200.54 214.29L201.66 215.08L202.74 214.93L203.75 215.36L204.20 214.81L205.34 214.77L206.35 213.59L207.30 215.06L208.23 214.81L209.20 214.12L210.20 214.29L211.19 214.82L212.19 213.97L213.22 214.93L214.30 214.70L215.28 214.24L216.34 214.95L217.43 214.94L218.49 215.60L219.46 215.20L220.30 214.46L221.63 213.63L222.63 214.45L223.30 214.37" stroke="#06068c" stroke-width="1.8" fill="none" stroke-linejoin="round" stroke-linecap="round"/>
<path d="M24.50 312.61L25.43 314.04L26.80 314.60L27.75 315.36L28.83 315.10L29.86 315.24L30.30 315.60L31.44 315.86L32.40 315.80L33.41 314.94L34.50 313.42L35.86 312.40L36.83 312.09L37.30 311.50L38.26 310.99L39.22 310.48L40.10 309.66L41.02 307.49L42.02 304.79L42.20 304.87L43.11 301.84L43.60 300.97L44.54 302.66L45.00 304.06L45.92 309.05L46.30 310.53L47.46 313.09L48.40 313.51L49.49 313.29L50.50 310.99L51.44 303.58L51.90 297.67L52.60 281.05L53.10 260.12L53.70 232.37L54.40 250.08L55.00 278.43L55.92 291.19L56.10 293.75L57.01 308.04L57.10 309.11L57.90 314.68L58.60 307.94L59.20 297.84L60.00 281.10L60.60 275.60L61.40 283.92L62.33 300.14L62.40 300.50L63.30 310.57L63.80 313.90L64.85 314.62L65.90 314.90L66.88 312.09L67.30 311.97L68.40 310.44L69.48 312.84L70.10 313.09L71.36 315.17L72.20 315.32L73.40 315.45L74.00 314.63L74.98 311.99L75.90 307.58L76.82 300.91L77.20 297.94L78.10 291.74L78.40 289.95L79.30 298.06L80.25 307.82L80.50 309.05L81.57 312.26L82.10 312.45L83.29 312.11L84.50 310.42L85.54 311.40L86.30 312.48L87.68 313.67L88.66 314.28L89.10 314.31L90.24 314.46L91.20 311.60L92.11 305.92L92.60 303.49L93.55 294.76L94.00 290.94L94.96 283.87L95.40 281.88L96.50 284.03L97.43 290.71L97.90 293.65L98.86 299.53L99.60 303.70L100.54 307.22L101.40 309.00L102.49 311.31L103.70 311.18L104.82 310.71L105.98 310.04L106.50 310.43L107.74 310.90L108.60 311.69L109.74 311.64L110.92 312.15L111.40 312.62L112.33 313.58L112.80 313.75L113.72 313.15L114.72 311.38L115.00 310.99L116.00 309.38L116.50 307.98L117.70 305.59L118.30 305.20L119.37 306.92L120.00 309.07L121.13 312.09L121.70 312.32L122.74 312.59L123.95 312.45L124.60 312.22L125.80 311.24L127.09 310.28L128.30 309.31L129.23 308.63L130.52 307.42L131.30 307.24L132.27 305.65L133.31 302.81L133.50 302.46L134.42 299.59L135.00 296.92L135.95 290.16L136.40 287.15L137.30 280.92L137.90 276.87L138.70 268.90L139.50 262.10L140.44 251.85L141.00 246.10L141.91 236.84L142.00 235.98L142.85 229.34L143.83 234.44L144.00 235.97L144.90 246.07L145.81 260.61L145.90 261.93L146.80 276.84L147.70 283.89L148.30 287.18L149.25 293.15L149.80 296.06L150.73 300.11L151.66 302.86L152.00 303.40L153.15 305.64L154.08 306.56L155.00 307.82L155.94 309.67L156.88 310.79L157.90 311.52L159.24 312.62L160.20 313.32L161.15 313.38L161.60 313.79L162.73 314.38L163.83 313.71L165.00 314.63L165.93 315.19L166.90 315.50L167.92 315.24L169.00 316.03L169.93 315.86L170.92 316.48L171.94 316.58L172.98 316.48L174.00 316.32L175.02 316.15L176.04 316.57L177.06 315.82L178.08 316.12L179.10 315.75L180.12 315.26L181.16 315.77L182.18 314.49L183.17 314.76L184.10 313.39L185.17 312.31L186.16 312.92L187.12 312.42L188.10 312.07L189.39 312.64L190.69 312.97L191.61 313.99L192.10 314.29L193.02 314.53L193.97 315.02L194.97 314.77L196.04 314.87L197.20 314.63L198.12 314.49L199.12 314.57L200.17 314.30L201.24 314.70L202.29 313.82L203.29 314.70L204.20 313.90L205.29 314.44L206.24 313.97L207.14 315.02L208.10 314.66L209.20 314.74L210.10 314.95L211.08 314.42L212.10 314.20L213.15 313.76L214.22 314.80L215.27 314.03L216.30 314.14L217.37 314.12L218.51 314.76L219.67 313.40L220.80 314.03L221.81 313.74L223.02 314.00L223.30 313.61" stroke="#8e0404" stroke-width="1.8" fill="none" stroke-linejoin="round" stroke-linecap="round"/>
<path d="M250.50 108.90C250.91 108.83 254.43 108.28 255.40 108.10C256.38 107.92 261.07 106.99 262.20 106.70C263.33 106.41 267.76 105.17 269.00 104.60C270.24 104.03 275.75 100.81 277.10 99.90C278.45 98.99 283.96 94.98 285.20 93.70C286.44 92.42 290.98 86.36 292.00 84.60C293.02 82.84 296.48 74.82 297.40 72.60C298.32 70.38 302.15 60.30 303.00 58.00C303.85 55.70 306.80 46.97 307.60 45.00C308.40 43.03 311.80 35.58 312.60 34.40C313.40 33.22 316.43 30.82 317.20 30.80C317.97 30.78 321.00 33.08 321.80 34.10C322.60 35.12 325.93 40.90 326.80 43.00C327.67 45.10 331.32 56.58 332.20 59.30C333.07 62.02 336.62 73.72 337.30 75.60C337.98 77.47 339.82 80.73 340.40 81.80C340.98 82.87 343.62 87.31 344.30 88.40C344.98 89.49 347.88 94.12 348.60 94.90C349.32 95.68 352.18 97.47 352.90 97.70C353.62 97.93 356.48 98.12 357.20 97.70C357.92 97.28 360.60 93.92 361.50 92.70C362.40 91.48 366.93 84.89 368.00 83.10C369.07 81.31 373.42 73.00 374.40 71.20C375.38 69.40 378.99 62.58 379.80 61.50C380.61 60.42 383.29 58.44 384.10 58.30C384.91 58.16 388.69 59.08 389.50 59.80C390.31 60.52 392.99 65.23 393.80 66.90C394.61 68.57 398.30 77.73 399.20 79.80C400.10 81.87 403.70 90.17 404.60 91.70C405.50 93.23 409.10 97.06 410.00 98.10C410.90 99.14 414.42 103.39 415.40 104.20C416.38 105.01 420.73 107.36 421.80 107.80C422.88 108.24 427.23 109.30 428.30 109.50C429.38 109.70 433.72 110.11 434.70 110.20C435.68 110.29 439.20 110.47 440.10 110.60C441.00 110.72 444.77 111.68 445.50 111.70C446.23 111.72 448.53 110.88 448.80 110.80" stroke="#ff0a0a" stroke-width="2.55" fill="none" stroke-linejoin="round" stroke-linecap="round"/>
<path d="M250.50 209.00C250.80 208.93 253.46 208.49 254.10 208.20C254.74 207.91 257.40 205.88 258.20 205.50C259.00 205.12 262.78 203.99 263.70 203.60C264.62 203.21 268.28 201.33 269.20 200.80C270.12 200.28 273.79 198.05 274.70 197.30C275.61 196.55 279.23 192.81 280.10 191.80C280.97 190.79 284.30 186.62 285.10 185.20C285.90 183.78 288.86 176.81 289.70 174.80C290.54 172.79 294.40 163.72 295.20 161.10C296.00 158.47 298.68 145.31 299.30 143.30C299.92 141.29 302.03 137.92 302.60 137.00C303.18 136.08 305.45 132.69 306.20 132.30C306.95 131.91 310.80 132.07 311.60 132.30C312.40 132.53 315.23 134.18 315.80 135.10C316.38 136.02 318.09 141.93 318.50 143.30C318.91 144.67 320.13 150.24 320.70 151.50C321.27 152.76 324.57 156.80 325.30 158.40C326.03 160.00 328.81 168.77 329.50 170.70C330.19 172.63 332.92 179.89 333.60 181.60C334.28 183.31 337.07 189.97 337.70 191.20C338.33 192.42 340.72 195.88 341.20 196.30C341.68 196.73 343.09 196.34 343.50 196.30C343.91 196.26 345.41 195.39 346.10 195.80C346.79 196.21 350.88 200.65 351.80 201.20C352.73 201.75 356.34 202.36 357.20 202.40C358.06 202.44 361.28 202.62 362.10 201.70C362.92 200.78 366.18 193.49 367.00 191.40C367.82 189.31 371.08 179.37 371.90 176.60C372.72 173.83 376.18 159.79 376.80 158.20C377.42 156.61 378.78 157.43 379.30 157.50C379.82 157.57 382.39 158.22 383.00 159.00C383.61 159.78 385.88 165.43 386.60 166.80C387.32 168.17 390.68 173.66 391.60 175.40C392.53 177.14 396.68 185.86 397.70 187.70C398.72 189.54 402.78 196.17 403.80 197.50C404.82 198.83 408.98 202.88 410.00 203.70C411.02 204.52 414.98 206.59 416.10 207.30C417.23 208.01 422.48 212.05 423.50 212.20C424.52 212.35 427.48 209.16 428.40 209.10C429.32 209.04 433.48 211.30 434.50 211.50C435.52 211.70 439.51 211.64 440.70 211.50C441.89 211.36 448.12 209.94 448.80 209.80" stroke="#06068c" stroke-width="2.55" fill="none" stroke-linejoin="round" stroke-linecap="round"/>
<path d="M250.50 311.90C251.03 311.82 255.70 311.18 256.80 311.00C257.90 310.82 262.56 310.08 263.70 309.70C264.84 309.32 269.48 306.97 270.50 306.40C271.52 305.82 275.15 303.67 276.00 302.80C276.85 301.93 279.90 297.37 280.70 296.00C281.50 294.63 284.85 288.22 285.60 286.40C286.35 284.57 289.02 276.38 289.70 274.10C290.38 271.82 293.18 261.28 293.80 259.00C294.42 256.72 296.58 248.52 297.10 246.70C297.62 244.88 299.68 238.24 300.10 237.10C300.52 235.96 301.71 233.34 302.10 233.00C302.49 232.66 304.35 232.66 304.80 233.00C305.25 233.34 307.00 236.19 307.50 237.10C308.00 238.01 310.23 242.31 310.80 243.90C311.38 245.49 313.76 254.14 314.40 256.20C315.04 258.26 317.82 266.54 318.50 268.60C319.18 270.66 321.80 278.96 322.60 280.90C323.40 282.84 327.18 290.37 328.10 291.90C329.02 293.43 332.58 298.16 333.60 299.30C334.62 300.44 339.52 304.75 340.40 305.60C341.27 306.45 343.45 308.99 344.10 309.50C344.75 310.01 347.45 311.47 348.20 311.70C348.95 311.93 352.30 312.03 353.10 312.30C353.90 312.57 356.95 315.23 357.80 315.00C358.65 314.77 362.39 310.46 363.30 309.50C364.21 308.54 367.91 304.98 368.70 303.50C369.49 302.02 372.12 293.80 372.80 291.80C373.48 289.80 376.38 280.87 376.90 279.50C377.42 278.13 378.53 275.52 379.10 275.40C379.68 275.28 383.07 277.31 383.80 278.10C384.53 278.89 387.10 283.31 387.90 284.90C388.70 286.49 392.49 295.60 393.40 297.20C394.31 298.80 397.78 303.08 398.80 304.10C399.82 305.12 404.44 308.70 405.70 309.50C406.96 310.30 412.53 313.19 413.90 313.70C415.27 314.21 420.73 315.49 422.10 315.60C423.47 315.71 428.93 314.98 430.30 315.00C431.67 315.02 436.96 315.80 438.50 315.80C440.04 315.80 447.94 315.07 448.80 315.00" stroke="#8e0404" stroke-width="2.55" fill="none" stroke-linejoin="round" stroke-linecap="round"/>
<path d="M477.00 110.17L479.00 110.05L481.00 109.38L481.40 109.36L483.71 109.35L486.03 110.00L486.80 110.34L489.16 109.82L491.51 109.52L492.30 108.93L494.32 108.99L496.35 108.83L498.38 107.98L500.40 108.71L502.71 108.00L505.03 107.18L505.80 106.49L507.88 105.47L509.95 105.33L511.20 105.34L513.25 104.70L515.30 103.73L517.35 103.14L519.40 102.02L521.76 100.99L524.13 99.79L526.10 98.52L528.10 97.56L530.10 95.30L532.10 93.81L532.90 92.52L534.90 90.23L536.90 88.34L538.90 86.38L539.70 85.68L541.78 85.28L543.85 84.57L545.10 84.38L547.15 83.18L549.20 82.45L551.28 82.19L553.35 82.86L554.60 82.95L556.65 81.97L558.70 82.31L560.70 80.85L562.70 78.05L564.76 76.22L566.40 74.79L568.45 71.73L570.49 69.55L570.90 68.79L573.21 63.56L573.60 63.50L575.50 60.68L577.50 56.25L579.50 51.28L581.55 47.20L583.60 43.02L585.65 40.15L587.70 38.48L589.70 37.74L591.70 37.54L593.75 38.02L595.80 39.38L597.80 41.03L599.80 43.16L601.85 44.20L603.90 46.92L605.98 48.43L608.05 50.17L609.30 50.37L611.61 51.00L613.93 52.24L614.70 53.85L616.78 56.11L618.85 58.56L620.10 60.72L622.46 65.13L624.81 68.81L625.60 70.13L627.68 73.40L629.75 77.00L631.00 78.28L633.08 81.03L635.15 83.66L636.40 84.80L638.48 87.81L640.55 89.94L641.80 90.97L644.11 92.77L646.43 96.03L647.20 97.31L649.20 97.62L651.20 99.48L653.20 101.16L654.00 101.03L656.36 102.83L658.73 103.34L660.70 103.88L662.75 104.59L664.80 105.27L666.85 105.60L668.90 106.24L670.93 106.15L672.96 106.57L674.99 107.51L675.80 107.20" stroke="#ff0a0a" stroke-width="1.75" fill="none" stroke-linejoin="round" stroke-linecap="round"/>
<path d="M477.00 207.77L478.70 209.49L480.70 210.35L481.50 210.12L483.81 209.55L484.20 209.07L486.20 211.45L487.00 211.80L489.05 210.40L491.10 209.73L493.41 207.29L493.80 207.77L495.85 208.78L497.90 209.34L499.95 209.00L502.00 208.28L504.05 208.46L506.10 207.72L508.50 207.64L508.90 209.23L511.21 205.77L511.60 205.57L513.65 205.79L515.70 206.90L517.75 207.83L519.80 207.80L521.80 204.09L522.60 203.80L524.65 202.37L526.70 202.45L529.01 197.74L529.40 198.10L531.40 197.44L532.20 196.05L534.51 197.98L534.90 198.16L536.30 192.01L538.35 191.55L540.40 191.96L542.45 190.92L544.50 186.82L546.55 184.85L548.60 183.72L550.65 181.84L552.70 180.55L554.75 179.54L556.80 176.42L558.85 173.58L560.90 169.54L562.90 166.94L563.70 165.06L565.78 159.35L566.20 160.13L568.54 154.26L570.10 151.54L572.15 147.75L574.20 143.07L576.25 139.71L578.30 136.78L580.30 132.72L581.10 130.10L583.00 128.79L584.60 130.43L586.60 128.34L588.91 132.31L589.30 132.31L591.61 136.94L592.00 138.00L594.00 138.92L594.80 140.86L597.11 144.43L597.50 144.62L599.50 149.25L600.30 151.57L602.35 155.38L604.40 160.65L606.48 164.58L608.55 168.47L609.80 169.29L612.16 172.36L614.51 175.27L615.30 176.02L617.66 178.89L620.01 181.52L620.80 181.72L623.16 184.68L625.51 185.69L626.30 187.17L628.66 188.19L631.01 189.90L631.80 190.77L634.16 192.27L636.51 194.15L637.30 194.15L639.61 195.00L641.93 198.42L642.70 197.79L645.06 199.23L647.41 200.65L648.20 200.79L650.56 203.17L652.91 204.87L653.70 205.31L656.06 205.58L658.41 204.53L659.20 204.22L661.25 205.80L663.30 207.10L665.35 208.98L667.40 210.29L669.76 210.52L672.11 210.28L672.90 210.72L674.97 209.23L675.80 209.36" stroke="#06068c" stroke-width="1.75" fill="none" stroke-linejoin="round" stroke-linecap="round"/>
<path d="M477.00 310.83L479.33 312.18L480.10 312.63L482.15 313.62L484.20 313.21L486.56 312.43L488.91 312.00L489.70 311.56L492.06 310.95L494.41 311.58L495.20 312.07L497.56 311.66L499.91 310.94L500.70 310.81L502.75 310.55L504.80 310.10L507.11 308.59L507.50 308.39L509.55 308.29L511.60 310.98L513.65 309.18L515.70 308.93L517.70 307.14L519.30 307.10L521.20 309.22L523.25 307.65L525.30 305.47L527.66 303.54L530.01 302.97L530.80 302.84L532.86 301.94L534.10 301.62L536.41 298.46L536.80 298.52L539.00 298.82L541.00 295.60L541.80 292.74L543.85 290.76L545.90 288.95L548.21 286.07L548.60 285.19L550.65 281.69L552.70 278.27L555.06 275.08L557.41 272.04L558.20 271.25L560.25 268.13L562.30 267.02L564.61 257.79L565.00 256.22L567.06 252.29L568.70 248.11L570.70 247.32L571.50 246.71L573.70 239.39L576.01 235.11L576.40 234.14L578.40 231.66L579.20 230.15L581.10 231.54L583.41 231.96L583.80 232.35L585.80 235.51L586.60 238.11L588.65 244.62L590.70 249.48L592.75 254.63L594.80 260.34L596.85 266.33L598.90 273.28L600.95 276.41L603.00 279.50L605.36 282.65L607.71 285.20L608.50 287.82L610.86 291.19L613.21 293.49L614.00 293.85L616.08 295.32L618.15 296.86L619.40 298.71L621.76 299.65L624.11 300.41L624.90 301.79L626.95 301.58L629.00 302.70L631.36 302.57L633.71 306.21L634.50 305.57L636.53 305.96L638.56 306.59L640.59 306.33L641.40 306.89L643.40 307.79L645.40 307.74L647.40 309.04L648.20 309.32L650.56 310.40L652.91 311.65L653.70 311.29L655.70 312.37L657.70 311.74L659.70 312.05L660.50 311.70L662.53 312.34L664.56 312.58L666.59 313.53L667.40 313.61L669.40 314.32L671.40 316.00L673.40 314.33L675.40 315.47L675.80 315.31" stroke="#8e0404" stroke-width="1.75" fill="none" stroke-linejoin="round" stroke-linecap="round"/>
<text class="om" font-size="20.3" transform="translate(32.04,37.40) scale(0.96,1)">ω</text>
<text class="om" font-size="13.2" x="45.04" y="41.10" transform="translate(48.52,41.10) scale(0.72,1.0) translate(-48.52,-41.10)">1</text>
<text class="om" font-size="20.3" transform="translate(61.64,58.80) scale(0.96,1)">ω</text>
<text class="om" font-size="13.2" x="74.82" y="62.90">2</text>
<text class="om" font-size="20.3" transform="translate(116.54,40.80) scale(0.96,1)">ω</text>
<text class="om" font-size="13.2" x="129.40" y="45.30">0</text>
<text class="om" font-size="20.3" transform="translate(32.04,134.70) scale(0.96,1)">ω</text>
<text class="om" font-size="13.2" x="45.04" y="138.60" transform="translate(48.52,138.60) scale(0.72,1.0) translate(-48.52,-138.60)">1</text>
<text class="om" font-size="20.3" transform="translate(59.34,158.20) scale(0.96,1)">ω</text>
<text class="om" font-size="13.2" x="72.52" y="161.70">2</text>
<text class="om" font-size="20.3" transform="translate(116.64,138.80) scale(0.96,1)">ω</text>
<text class="om" font-size="13.2" x="129.50" y="143.10">0</text>
<text class="om" font-size="20.3" transform="translate(32.04,237.00) scale(0.96,1)">ω</text>
<text class="om" font-size="13.2" x="45.04" y="240.70" transform="translate(48.52,240.70) scale(0.72,1.0) translate(-48.52,-240.70)">1</text>
<text class="om" font-size="20.3" transform="translate(60.74,270.00) scale(0.96,1)">ω</text>
<text class="om" font-size="13.2" x="73.52" y="274.40">2</text>
<text class="om" font-size="20.3" transform="translate(116.64,240.80) scale(0.96,1)">ω</text>
<text class="om" font-size="13.2" x="129.50" y="245.10">0</text>
<text class="om" font-size="25.2" transform="translate(275.02,46.50) scale(1.0,1)">ω</text>
<text class="om" font-size="16.2" x="290.97" y="52.70" transform="translate(295.25,52.70) scale(0.72,1.1) translate(-295.25,-52.70)">1</text>
<text class="om" font-size="25.2" transform="translate(350.32,55.30) scale(1.0,1)">ω</text>
<text class="om" font-size="16.2" x="366.99" y="61.30">2</text>
<text class="om" font-size="25.2" transform="translate(269.92,140.60) scale(1.0,1)">ω</text>
<text class="om" font-size="16.2" x="287.37" y="146.40" transform="translate(291.65,146.40) scale(0.72,1.1) translate(-291.65,-146.40)">1</text>
<text class="om" font-size="25.2" transform="translate(346.32,155.50) scale(1.0,1)">ω</text>
<text class="om" font-size="16.2" x="362.39" y="161.20">2</text>
<text class="om" font-size="25.2" transform="translate(266.42,246.10) scale(1.0,1)">ω</text>
<text class="om" font-size="16.2" x="283.17" y="252.50" transform="translate(287.45,252.50) scale(0.72,1.1) translate(-287.45,-252.50)">1</text>
<text class="om" font-size="25.2" transform="translate(347.02,269.10) scale(1.0,1)">ω</text>
<text class="om" font-size="16.2" x="363.69" y="275.30">2</text>
<text class="om" font-size="25.2" transform="translate(551.12,37.80) scale(1.0,1)">ω</text>
<text class="om" font-size="16.2" x="567.88" y="43.80">0</text>
<text class="om" font-size="25.2" transform="translate(546.92,140.20) scale(1.0,1)">ω</text>
<text class="om" font-size="16.2" x="563.98" y="145.70">0</text>
<text class="om" font-size="25.2" transform="translate(538.42,245.90) scale(1.0,1)">ω</text>
<text class="om" font-size="16.2" x="555.28" y="251.80">0</text>
<text class="sl" x="194.30" y="38.10">S3</text>
<text class="sl" x="192.60" y="139.60">S2</text>
<text class="sl" x="194.60" y="239.80">S</text>
<path d="M373 0H285V560C264 540 236 519 201 498C167 478 136 463 108 452V537C157 560 200 587 237 619C274 651 300 684 315 716H373Z" transform="translate(206.34,239.80) scale(0.0176,-0.0176)" fill="#000" stroke="#000" stroke-width="25.6"/>
<text class="sl" x="419.20" y="37.80">S3</text>
<text class="sl" x="417.50" y="139.70">S2</text>
<text class="sl" x="419.60" y="239.30">S</text>
<path d="M373 0H285V560C264 540 236 519 201 498C167 478 136 463 108 452V537C157 560 200 587 237 619C274 651 300 684 315 716H373Z" transform="translate(431.34,239.30) scale(0.0176,-0.0176)" fill="#000" stroke="#000" stroke-width="25.6"/>
<text class="sl" x="646.10" y="37.10">S3</text>
<text class="sl" x="644.40" y="140.10">S2</text>
<text class="sl" x="647.10" y="239.30">S</text>
<path d="M373 0H285V560C264 540 236 519 201 498C167 478 136 463 108 452V537C157 560 200 587 237 619C274 651 300 684 315 716H373Z" transform="translate(658.84,239.30) scale(0.0176,-0.0176)" fill="#000" stroke="#000" stroke-width="25.6"/>
<text class="pl" x="0" y="37">a)</text>
<text class="pl" x="226.9" y="38">b)</text>
<text class="pl" x="452.4" y="35.8">c)</text>
<text class="ax" transform="translate(14.3,192) rotate(-90)">Intensity</text>
<text class="ax" transform="translate(239.9,192) rotate(-90)">Intensity</text>
<text class="ax" transform="translate(465.9,192) rotate(-90)">Intensity</text>
<text class="ax" x="124.2" y="353.6" text-anchor="middle">Raman shift (cm<tspan font-size="9.5" dy="-8.4">- </tspan><tspan dy="8.4">)</tspan></text>
<path d="M373 0H285V560C264 540 236 519 201 498C167 478 136 463 108 452V537C157 560 200 587 237 619C274 651 300 684 315 716H373Z" transform="translate(183.15,345.2) scale(0.0095,-0.0095)" fill="#111" stroke="#111" stroke-width="40"/>
<text class="ax" x="347.4" y="353.6" text-anchor="middle">Raman shift (cm<tspan font-size="9.5" dy="-8.4">- </tspan><tspan dy="8.4">)</tspan></text>
<path d="M373 0H285V560C264 540 236 519 201 498C167 478 136 463 108 452V537C157 560 200 587 237 619C274 651 300 684 315 716H373Z" transform="translate(406.35,345.2) scale(0.0095,-0.0095)" fill="#111" stroke="#111" stroke-width="40"/>
<text class="ax" x="576.0" y="353.6" text-anchor="middle">Raman shift (cm<tspan font-size="9.5" dy="-8.4">- </tspan><tspan dy="8.4">)</tspan></text>
<path d="M373 0H285V560C264 540 236 519 201 498C167 478 136 463 108 452V537C157 560 200 587 237 619C274 651 300 684 315 716H373Z" transform="translate(634.95,345.2) scale(0.0095,-0.0095)" fill="#111" stroke="#111" stroke-width="40"/>
</svg>
</body></html>
